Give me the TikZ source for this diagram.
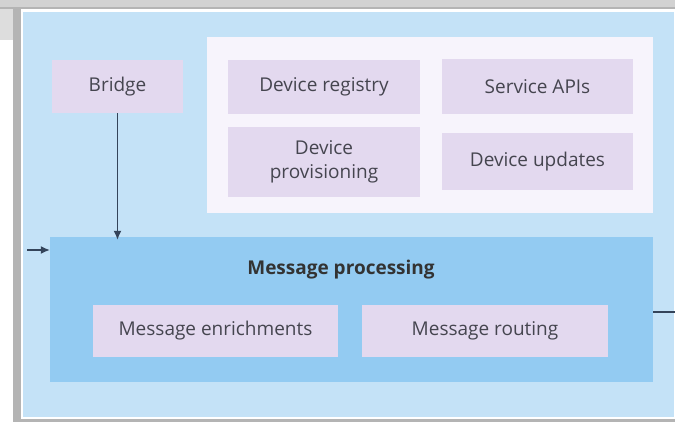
\documentclass[tikz,border=0pt]{standalone}
\usepackage{fontspec}
\setmainfont{Open Sans}
\usepackage{xcolor}
\usepackage{tikz}
\usetikzlibrary{positioning,arrows.meta}
\definecolor{skyback}{HTML}{C4E2F7}
\definecolor{procblue}{HTML}{93CBF2}
\definecolor{lilac}{HTML}{E3D9EF}
\definecolor{paleviolet}{HTML}{F7F4FC}
\definecolor{inkgray}{HTML}{45454F}
\definecolor{arrowink}{HTML}{34445A}
\definecolor{framegray}{HTML}{B4B4B4}

\tikzset{
  lilacbox/.style={fill=lilac, draw=none, align=center, text=inkgray,
    inner sep=0pt, font=\fontsize{19}{24}\selectfont},
  flowline/.style={draw=arrowink, line width=1.3pt},
  flowarrow/.style={flowline, -{Latex[length=9pt,width=8pt]}}
}

\begin{document}
\begin{tikzpicture}[x=1pt, y=-1pt]
\useasboundingbox (0,0) rectangle (675,422);
\fill[white] (0,0) rectangle (675,422);

% window frame round the panel
\fill[framegray!60] (0,0) rectangle (675,9);
\fill[framegray] (0,7) rectangle (675,9);
\fill[framegray!45] (0,9) rectangle (13,40);
\fill[framegray] (13,9) rectangle (21,422);
\fill[framegray] (13,419) rectangle (675,422);

\node[fill=skyback, draw=white, line width=1.5pt, minimum width=653pt,
      minimum height=407pt, inner sep=0pt] (panel) at (348.5,214.5) {};

% device side services
\node[fill=paleviolet, minimum width=446pt, minimum height=176pt,
      inner sep=0pt] (services) at (430,125) {};

\node[lilacbox, minimum width=131pt, minimum height=53pt] (bridge) at (117.5,86.5) {Bridge};
\node[lilacbox, minimum width=192pt, minimum height=54pt] (registry) at (324,87) {Device registry};
\node[lilacbox, minimum width=191pt, minimum height=55pt] (apis) at (537.5,87) {Service APIs};
\node[lilacbox, minimum width=192pt, minimum height=70pt] (provisioning) at (324,162) {Device\\provisioning};
\node[lilacbox, minimum width=191pt, minimum height=57pt] (updates) at (537.5,161.5) {Device updates};

% message processing block
\node[fill=procblue, minimum width=603pt, minimum height=145pt,
      inner sep=0pt] (processing) at (351.5,309.5) {};
\node[text=black!80, font=\fontsize{19}{24}\selectfont\bfseries] (proctitle) at (341,270) {Message processing};
\node[lilacbox, minimum width=245pt, minimum height=52pt] (enrich) at (215.5,331) {Message enrichments};
\node[lilacbox, minimum width=246pt, minimum height=52pt] (routing) at (485,331) {Message routing};

\coordinate (feedin) at (27,250);
\coordinate (feedout) at (675,312);
\draw[flowarrow] (bridge.south) -- ([yshift=-3pt]bridge.south |- processing.north);
\draw[flowarrow] (feedin) -- (feedin -| processing.west);
\draw[flowline] (processing.east |- feedout) -- (feedout);
\end{tikzpicture}
\end{document}
